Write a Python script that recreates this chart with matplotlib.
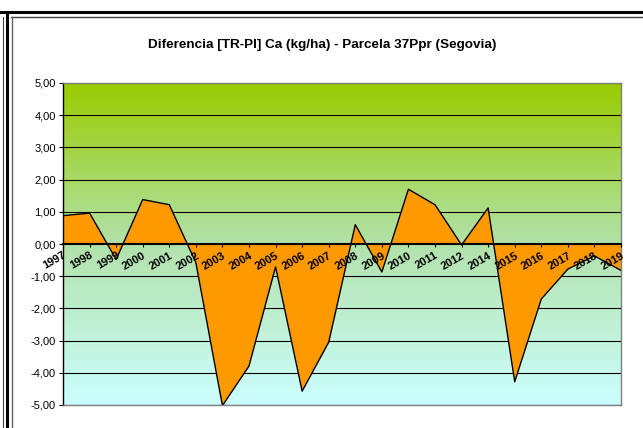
import numpy as np
import matplotlib
matplotlib.use("Agg")
import matplotlib.pyplot as plt
from matplotlib.colors import LinearSegmentedColormap
from matplotlib.lines import Line2D

# data
years = ['1997', '1998', '1999', '2000', '2001', '2002', '2003', '2004',
         '2005', '2006', '2007', '2008', '2009', '2010', '2011', '2012',
         '2014', '2015', '2016', '2017', '2018', '2019']
diff_ca = [0.88, 0.96, -0.48, 1.38, 1.22, -0.58, -5.02, -3.79,
           -0.71, -4.57, -3.05, 0.60, -0.87, 1.70, 1.22, -0.03,
           1.12, -4.28, -1.71, -0.78, -0.37, -0.82]
y_ticks = [5, 4, 3, 2, 1, 0, -1, -2, -3, -4, -5]

plt.rcParams['font.family'] = ['Liberation Sans', 'DejaVu Sans']

fig = plt.figure(figsize=(6.43, 4.28), dpi=100)
W, H = 643, 428
ax = fig.add_axes([63 / W, 1 - 405 / H, (621 - 63) / W, (405 - 83) / H])

# move the category axis to zero first (this resets the ticks)
ax.spines['bottom'].set_position(('data', 0))

x = np.arange(len(years))
ax.set_xlim(0, len(years) - 1)
ax.set_ylim(-5, 5)

# background gradient of the plot area
cmap = LinearSegmentedColormap.from_list(
    'bg', [(0.0, '#CCFFFF'), (0.5, '#B2E2AA'), (1.0, '#99CC00')])
grad = np.linspace(0, 1, 256).reshape(-1, 1)
ax.imshow(grad, cmap=cmap, origin='lower', aspect='auto',
          extent=[0, len(years) - 1, -5, 5], zorder=0)

# grid lines
for v in y_ticks:
    if v != 0:
        ax.axhline(v, color='black', lw=0.8, zorder=1)

# area
ax.fill_between(x, diff_ca, 0, facecolor='#FF9900', lw=0, zorder=2)
ax.plot(x, diff_ca, color='black', lw=1.0, zorder=3)

ax.set_yticks(y_ticks)
ax.set_yticklabels([('%.2f' % v).replace('.', ',') for v in y_ticks])
ax.tick_params(axis='y', direction='out', length=3, width=0.8, pad=2,
               labelsize=8, colors='black')

ax.set_xticks(x)
ax.set_xticklabels(years, rotation=30, ha='right', va='top',
                   rotation_mode='anchor', fontweight='bold', fontsize=8)
ax.tick_params(axis='x', direction='out', length=2.5, width=0.8, pad=2)
ax.xaxis.set_zorder(5)

ax.spines['bottom'].set_linewidth(1.5)
ax.spines['bottom'].set_zorder(4)
ax.spines['left'].set_color('black')
ax.spines['left'].set_linewidth(1.0)
for s in ['top', 'right']:
    ax.spines[s].set_color('#808080')
    ax.spines[s].set_linewidth(1.0)

# gray bottom border of the plot area (the axis sits at zero)
ax.plot([0, len(years) - 1], [-5, -5], color='#808080', lw=1.0,
        zorder=4, clip_on=False)

fig.text(322 / W, 1 - 45 / H,
         'Diferencia [TR-PI] Ca (kg/ha) - Parcela 37Ppr (Segovia)',
         ha='center', va='center', fontsize=9.7, fontweight='bold')

# outer frame lines
def px_line(x0, y0, x1, y1, lw, color):
    fig.add_artist(Line2D([x0 / W, x1 / W], [1 - y0 / H, 1 - y1 / H],
                          transform=fig.transFigure, lw=lw, color=color))

px_line(0, 12, W, 12, 2.2, 'black')
px_line(11, 17, W, 17, 1.0, '#404040')
px_line(7, 12, 7, H, 2.2, 'black')
px_line(3, 17, 3, H, 0.8, '#404040')
px_line(11.5, 17, 11.5, H, 1.0, '#606060')

fig.savefig('out.png', dpi=100)
